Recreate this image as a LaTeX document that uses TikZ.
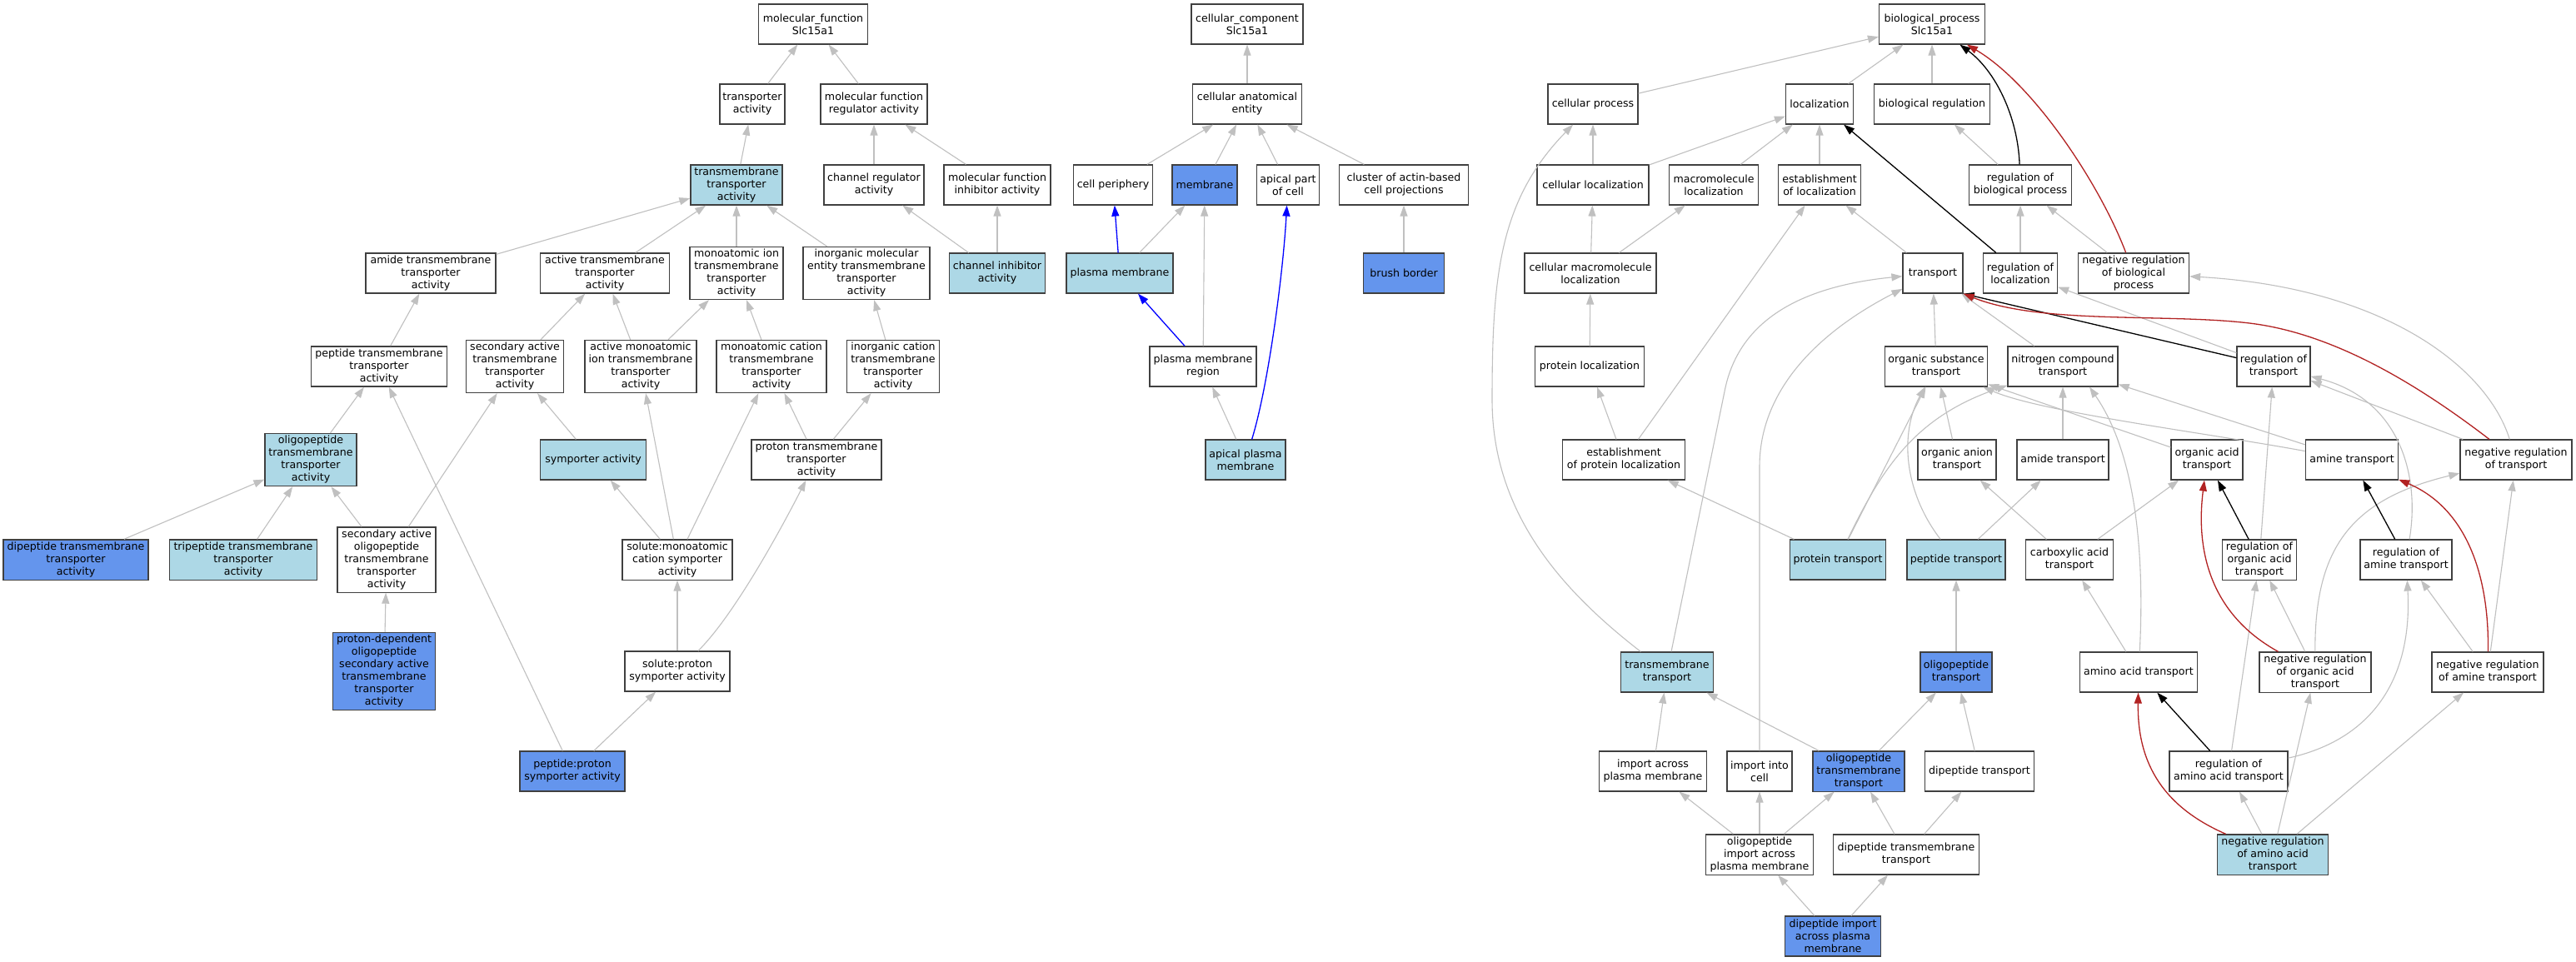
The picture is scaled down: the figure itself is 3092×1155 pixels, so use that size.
\documentclass[tikz,border=0pt]{standalone}
\usepackage{fontspec}
\setmainfont{DejaVu Sans}
\usetikzlibrary{arrows.meta}

\definecolor{termblue}{HTML}{ADD8E6}
\definecolor{termdark}{HTML}{6495ED}
\definecolor{edgegray}{HTML}{C0C0C0}
\definecolor{negred}{HTML}{B22222}
\definecolor{boxline}{HTML}{404040}

\tikzset{
  term/.style={draw=boxline, fill=white, line width=1.2pt, rectangle, align=center,
    inner xsep=2pt, inner ysep=3pt, minimum height=48pt,
    font=\fontsize{12.6}{15}\selectfont},
  wd/.style={minimum width=#1pt},
  annot/.style={term, fill=termblue},
  direct/.style={term, fill=termdark},
  isa/.style={draw=edgegray, line width=1.1pt, -{Triangle[length=13pt,width=9pt]}},
  partof/.style={isa, draw=blue, line width=1.3pt},
  regul/.style={isa, draw=black, line width=1.3pt},
  negreg/.style={isa, draw=negred, line width=1.3pt}
}

\begin{document}
\begin{tikzpicture}[x=1pt, y=-1pt]
    % Page
    \fill[white] (0,0) rectangle (3092,1155);

    % Molecular function terms
    \node[term, wd=131] (mfroot) at (976,29) {molecular\_function\\Slc15a1};
    \node[term, wd=78] (transp) at (903,125) {transporter\\activity};
    \node[term, wd=128] (mfreg) at (1049,125) {molecular function\\regulator activity};
    \node[annot, wd=110] (tmtransp) at (884,222) {transmembrane\\transporter\\activity};
    \node[term, wd=120] (chanreg) at (1049,222) {channel regulator\\activity};
    \node[term, wd=128] (mfinhib) at (1197,222) {molecular function\\inhibitor activity};
    \node[term, wd=156] (amidetm) at (517,328) {amide transmembrane\\transporter\\activity};
    \node[term, wd=155] (activetm) at (726,328) {active transmembrane\\transporter\\activity};
    \node[term, wd=112] (ionm) at (884,328) {monoatomic ion\\transmembrane\\transporter\\activity};
    \node[term, wd=152] (inorgmol) at (1040,328) {inorganic molecular\\entity transmembrane\\transporter\\activity};
    \node[annot, wd=115] (chaninhib) at (1197,328) {channel inhibitor\\activity};
    \node[term, wd=163] (peptm) at (455,440) {peptide transmembrane\\transporter\\activity};
    \node[term, wd=117] (secactm) at (618,440) {secondary active\\transmembrane\\transporter\\activity};
    \node[term, wd=134] (actionm) at (769,440) {active monoatomic\\ion transmembrane\\transporter\\activity};
    \node[term, wd=132] (cationm) at (926,440) {monoatomic cation\\transmembrane\\transporter\\activity};
    \node[term, wd=111] (inorgcat) at (1072,440) {inorganic cation\\transmembrane\\transporter\\activity};
    \node[annot, wd=110] (oligotm) at (373,552) {oligopeptide\\transmembrane\\transporter\\activity};
    \node[annot, wd=127] (symp) at (712,552) {symporter activity};
    \node[term, wd=156] (protontm) at (980,552) {proton transmembrane\\transporter\\activity};
    \node[direct, wd=174] (diptm) at (91,672) {dipeptide transmembrane\\transporter\\activity};
    \node[annot, wd=177] (triptm) at (292,672) {tripeptide transmembrane\\transporter\\activity};
    \node[term, wd=118] (secoligo) at (464,672) {secondary active\\oligopeptide\\transmembrane\\transporter\\activity};
    \node[term, wd=132] (solcat) at (813,672) {solute:monoatomic\\cation symporter\\activity};
    \node[direct, wd=123] (protdep) at (461,806) {proton-dependent\\oligopeptide\\secondary active\\transmembrane\\transporter\\activity};
    \node[term, wd=126] (solprot) at (813,806) {solute:proton\\symporter activity};
    \node[direct, wd=126] (pepprot) at (687,926) {peptide:proton\\symporter activity};

    % Cellular component terms
    \node[term, wd=134] (ccroot) at (1497,29) {cellular\_component\\Slc15a1};
    \node[term, wd=131] (cae) at (1497,125) {cellular anatomical\\entity};
    \node[term, wd=95] (cellper) at (1336,222) {cell periphery};
    \node[direct, wd=78] (membr) at (1446,222) {membrane};
    \node[term, wd=75] (apical) at (1546,222) {apical part\\of cell};
    \node[term, wd=155] (cluster) at (1685,222) {cluster of actin-based\\cell projections};
    \node[annot, wd=128] (plasmem) at (1344,328) {plasma membrane};
    \node[direct, wd=97] (brush) at (1685,328) {brush border};
    \node[term, wd=128] (pmreg) at (1444,440) {plasma membrane\\region};
    \node[annot, wd=96] (apicalpm) at (1495,552) {apical plasma\\membrane};

    % Biological process terms
    \node[term, wd=127] (bproot) at (2319,29) {biological\_process\\Slc15a1};
    \node[term, wd=108] (cellproc) at (1912,125) {cellular process};
    \node[term, wd=81] (loc) at (2184,125) {localization};
    \node[term, wd=139] (bioreg) at (2319,125) {biological regulation};
    \node[term, wd=134] (cellloc) at (1912,222) {cellular localization};
    \node[term, wd=107] (macroloc) at (2057,222) {macromolecule\\localization};
    \node[term, wd=99] (estloc) at (2184,222) {establishment\\of localization};
    \node[term, wd=123] (regbio) at (2425,222) {regulation of\\biological process};
    \node[term, wd=158] (cmacroloc) at (1909,328) {cellular macromolecule\\localization};
    \node[term, wd=72] (transport) at (2320,328) {transport};
    \node[term, wd=89] (regloc) at (2425,328) {regulation of\\localization};
    \node[term, wd=133] (negbio) at (2561,328) {negative regulation\\of biological\\process};
    \node[term, wd=131] (protloc) at (1908,440) {protein localization};
    \node[term, wd=123] (orgsub) at (2324,440) {organic substance\\transport};
    \node[term, wd=132] (nitro) at (2476,440) {nitrogen compound\\transport};
    \node[term, wd=88] (regtr) at (2729,440) {regulation of\\transport};
    \node[term, wd=147] (estprot) at (1949,552) {establishment\\of protein localization};
    \node[term, wd=94] (organion) at (2349,552) {organic anion\\transport};
    \node[term, wd=110] (amide) at (2476,552) {amide transport};
    \node[term, wd=86] (orgacid) at (2649,552) {organic acid\\transport};
    \node[term, wd=111] (amine) at (2823,552) {amine transport};
    \node[term, wd=134] (negtr) at (3020,552) {negative regulation\\of transport};
    \node[annot, wd=115] (prottr) at (2206,672) {protein transport};
    \node[annot, wd=118] (peptr) at (2348,672) {peptide transport};
    \node[term, wd=105] (carbox) at (2484,672) {carboxylic acid\\transport};
    \node[term, wd=89] (regorg) at (2712,672) {regulation of\\organic acid\\transport};
    \node[term, wd=110] (regamine) at (2888,672) {regulation of\\amine transport};
    \node[annot, wd=111] (tmtr) at (2001,807) {transmembrane\\transport};
    \node[direct, wd=86] (oligotr) at (2348,807) {oligopeptide\\transport};
    \node[term, wd=141] (aminoacid) at (2567,807) {amino acid transport};
    \node[term, wd=134] (negorg) at (2779,807) {negative regulation\\of organic acid\\transport};
    \node[term, wd=134] (negamine) at (2986,807) {negative regulation\\of amine transport};
    \node[term, wd=129] (importpm) at (1984,926) {import across\\plasma membrane};
    \node[term, wd=78] (importcell) at (2112,926) {import into\\cell};
    \node[direct, wd=110] (oligotmtr) at (2231,926) {oligopeptide\\transmembrane\\transport};
    \node[term, wd=131] (diptr) at (2376,926) {dipeptide transport};
    \node[term, wd=142] (regamino) at (2675,926) {regulation of\\amino acid transport};
    \node[term, wd=129] (oligoimp) at (2112,1026) {oligopeptide\\import across\\plasma membrane};
    \node[term, wd=175] (diptmtr) at (2288,1026) {dipeptide transmembrane\\transport};
    \node[annot, wd=133] (negamino) at (2728,1026) {negative regulation\\of amino acid\\transport};
    \node[direct, wd=115] (dipimp) at (2200,1124) {dipeptide import\\across plasma\\membrane};

    % is_a links, molecular function
    \foreach \a/\b in {transp/mfroot, mfreg/mfroot, tmtransp/transp, chanreg/mfreg,
        mfinhib/mfreg, chaninhib/chanreg, chaninhib/mfinhib, amidetm/tmtransp,
        activetm/tmtransp, ionm/tmtransp, inorgmol/tmtransp, peptm/amidetm,
        secactm/activetm, actionm/activetm, actionm/ionm, cationm/ionm,
        inorgcat/inorgmol, oligotm/peptm, symp/secactm, protontm/cationm,
        protontm/inorgcat, diptm/oligotm, triptm/oligotm, secoligo/oligotm,
        secoligo/secactm, protdep/secoligo, pepprot/peptm, pepprot/solprot,
        solcat/symp, solcat/actionm, solcat/cationm, solprot/solcat} {
        \draw[isa] (\a) -- (\b);
    }
    \draw[isa] (solprot) .. controls (880,740) and (935,640) .. (protontm);

    % is_a and part_of links, cellular component
    \foreach \a/\b in {cae/ccroot, cellper/cae, membr/cae, apical/cae, cluster/cae,
        plasmem/membr, pmreg/membr, apicalpm/pmreg, brush/cluster} {
        \draw[isa] (\a) -- (\b);
    }
    \draw[partof] (plasmem) -- (cellper);
    \draw[partof] (pmreg) -- (plasmem);
    \draw[partof] (apicalpm) .. controls (1522,465) and (1540,330) .. (apical);

    % is_a links, biological process
    \foreach \a/\b in {cellproc/bproot, loc/bproot, bioreg/bproot, cellloc/loc,
        macroloc/loc, estloc/loc, regloc/regbio, negbio/regbio, regbio/bioreg,
        cellloc/cellproc, cmacroloc/cellloc, cmacroloc/macroloc, protloc/cmacroloc,
        transport/estloc, estprot/estloc, estprot/protloc, orgsub/transport,
        nitro/transport, regtr/regloc, prottr/orgsub, organion/orgsub, amide/nitro,
        aminoacid/carbox, amine/nitro, orgacid/orgsub, carbox/orgacid,
        carbox/organion, peptr/amide, prottr/estprot, oligotr/peptr, regorg/regtr,
        negtr/regtr, negamine/negtr, negamine/regamine, negorg/regorg,
        regamino/regorg, negamino/regamino, negamino/negorg, negamino/negamine,
        importpm/tmtr, oligotmtr/tmtr, oligotmtr/oligotr, diptr/oligotr,
        oligoimp/importpm, oligoimp/importcell, oligoimp/oligotmtr,
        diptmtr/oligotmtr, diptmtr/diptr, dipimp/oligoimp, dipimp/diptmtr} {
        \draw[isa] (\a) -- (\b);
    }
    \draw[isa] (tmtr) .. controls (1880,713) and (1791,620) .. (1791,480)
        .. controls (1791,330) and (1800,240) .. (cellproc);
    \draw[isa] (tmtr) -- (2070,470) .. controls (2085,392) and (2150,345) .. (transport);
    \draw[isa] (importcell) -- (2112,560) .. controls (2112,470) and (2180,400) .. (transport);
    \draw[isa] (prottr) .. controls (2260,560) and (2300,500) .. (nitro);
    \draw[isa] (peptr) .. controls (2285,590) and (2280,520) .. (orgsub);
    \draw[isa] (aminoacid) .. controls (2575,650) and (2560,540) .. ([xshift=32pt]nitro.south);
    \draw[isa] (amine) .. controls (2650,520) and (2450,495) .. (orgsub);
    \draw[isa] (negtr) .. controls (2985,440) and (2860,345) .. (negbio);
    \draw[isa] (regamine) .. controls (2905,570) and (2880,480) .. (regtr);
    \draw[isa] (negorg) .. controls (2778,660) and (2820,600) .. (negtr);
    \draw[isa] (regamino) .. controls (2860,885) and (2895,800) .. (regamine);

    % regulates links
    \draw[regul] (regbio) .. controls (2422,140) and (2395,85) .. (bproot);
    \draw[regul] (regloc) -- (loc);
    \draw[regul] (regtr) -- (transport.south east);
    \draw[regul] (regorg) -- (orgacid);
    \draw[regul] (regamine) -- (amine);
    \draw[regul] (regamino) -- (aminoacid);

    % negatively regulates links
    \draw[negreg] (negbio) .. controls (2520,220) and (2440,100) .. (bproot);
    \draw[negreg] (negtr) .. controls (2900,460) and (2800,400) .. (2700,388)
        .. controls (2600,376) and (2450,390) .. (transport.south east);
    \draw[negreg] (negorg) .. controls (2640,730) and (2638,640) .. (orgacid);
    \draw[negreg] (negamine) .. controls (2988,690) and (2960,610) .. (amine);
    \draw[negreg] (negamino) .. controls (2600,970) and (2565,920) .. (aminoacid);
\end{tikzpicture}
\end{document}
